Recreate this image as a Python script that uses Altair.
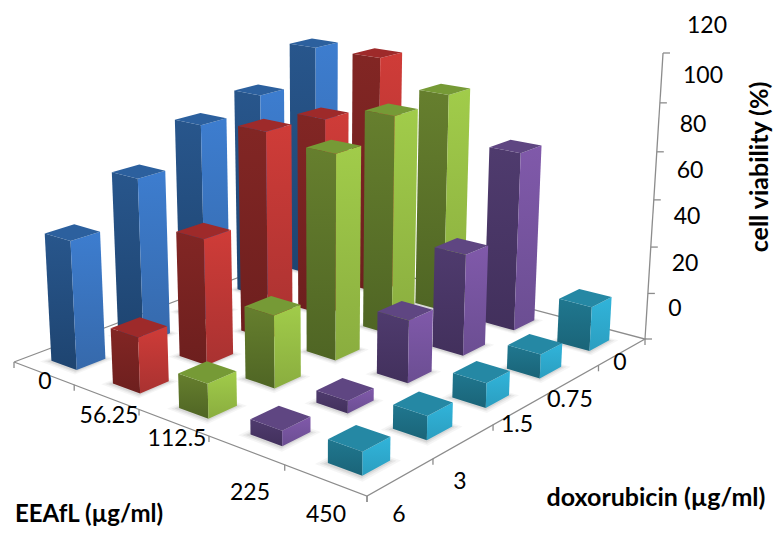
import altair as alt
import numpy as np

eeafl_labels = ["0", "56.25", "112.5", "225", "450"]
dox_labels = ["6", "3", "1.5", "0.75", "0"]
z_labels = ["0", "20", "40", "60", "80", "100", "120"]
# viability per EEAfL row, in dox order 6, 3, 1.5, 0.75, 0
blue = [54, 71, 86, 92, 107]
red = [23, 53, 89, 87, 107]
green = [14, 30, 86, 94, 96]
purple = [6, 5, 26, 43, 77]
teal = [9, 9.5, 10, 10, 19]
series = [blue, red, green, purple, teal]

# colours: top, left (start, end), right (start, end)
palette = [
    ("#2c609e", "#28568c", "#1e4470", "#3d7dcf", "#3669ab"),
    ("#9e2a2a", "#822624", "#6d1f1e", "#cf3c38", "#a93231"),
    ("#769a36", "#667f2e", "#4f6524", "#a1cc4a", "#8aad3f"),
    ("#5f4682", "#4f3b6e", "#42305c", "#8059aa", "#6b4e92"),
    ("#2588a4", "#20778f", "#1a6478", "#31b4da", "#2b9ec0"),
]
axis_color = "#8c8c8c"

OFF = 8
W, H = 765, 520
L, F, R, B = (14, 362), (367, 496), (645, 339), (310, 250.6)
Z_TOP = (663, 53)
VP = (321, 5478)
ZMAX = 120


def homography(src, dst):
    A, b = [], []
    for (u, v), (x, y) in zip(src, dst):
        A.append([u, v, 1, 0, 0, 0, -u * x, -v * x])
        A.append([0, 0, 0, u, v, 1, -u * y, -v * y])
        b += [x, y]
    h = np.linalg.solve(np.array(A, float), np.array(b, float))
    return np.append(h, 1).reshape(3, 3)


Hm = homography([(0, 0), (1, 0), (1, 1), (0, 1)], [L, F, R, B])
wR = (Hm @ np.array([1, 1, 1]))[2]
k = (Z_TOP[1] - R[1]) * wR / (ZMAX * (VP[1] - Z_TOP[1]))
c = k * np.array([VP[0], VP[1], 1.0])


def proj(u, v, z=0.0):
    p = Hm @ np.array([u, v, 1.0]) + z * c
    return [float(p[0] / p[2]) - OFF, float(p[1] / p[2]) - OFF]


def poly(pts):
    ring = pts + [pts[0]]
    return {"type": "Feature", "properties": {}, "geometry": {"type": "Polygon", "coordinates": [ring]}}


def line(pts):
    return {"type": "Feature", "properties": {}, "geometry": {"type": "LineString", "coordinates": pts}}


def grad(a, b):
    return alt.LinearGradient(
        gradient="linear", x1=0, y1=0, x2=0, y2=1,
        stops=[alt.GradientStop(offset=0, color=a), alt.GradientStop(offset=1, color=b)],
    )


def shape(features, **mark):
    return alt.Chart(alt.Data(values=features)).mark_geoshape(**mark).project(type="identity")


layers = []
frame = poly([[0, 0], [W, 0], [W, H], [0, H]])
layers.append(shape([frame], fill="#ffffff", stroke=None))

# floor edges and ticks
axis_lines = [line([proj(0, 0), proj(1, 0), proj(1, 1), proj(0, 1), proj(0, 0)])]
for i in range(6):
    t = i / 5
    a = proj(t, 0); axis_lines.append(line([a, [a[0], a[1] + 6]]))
    b = proj(1, t); axis_lines.append(line([b, [b[0], b[1] + 6]]))
axis_lines.append(line([proj(1, 1, 0), proj(1, 1, ZMAX)]))
for z in range(0, ZMAX + 1, 20):
    a = proj(1, 1, z); axis_lines.append(line([a, [a[0] + 7, a[1]]]))
layers.append(shape(axis_lines, filled=False, stroke=axis_color, strokeWidth=1.3))

HALF = 0.042


def footprint(u, v, g):
    return [proj(u - g, v - g), proj(u + g, v - g), proj(u + g, v + g), proj(u - g, v + g)]


cells = []
for i, row in enumerate(series):
    for j, val in enumerate(row):
        cells.append((i, j, val))
for extra, op in [(0.016, 0.04), (0.01, 0.05), (0.005, 0.07)]:
    feats = []
    for i, j, val in cells:
        u, v = (i + 0.5) / 5, (j + 0.5) / 5
        feats.append(poly(footprint(u, v - 0.003, HALF + extra)))
    layers.append(shape(feats, fill="#000000", fillOpacity=op, stroke=None))

# back to front
for i, j, val in sorted(cells, key=lambda c: c[0] - c[1]):
    u, v = (i + 0.5) / 5, (j + 0.5) / 5
    u0, u1, v0, v1 = u - HALF, u + HALF, v - HALF, v + HALF
    top_c, l0, l1, r0, r1 = palette[i]
    left = poly([proj(u0, v0, val), proj(u1, v0, val), proj(u1, v0), proj(u0, v0)])
    right = poly([proj(u1, v0, val), proj(u1, v1, val), proj(u1, v1), proj(u1, v0)])
    top = poly([proj(u0, v0, val), proj(u1, v0, val), proj(u1, v1, val), proj(u0, v1, val)])
    layers.append(shape([left], fill=grad(l0, l1), stroke=None))
    layers.append(shape([right], fill=grad(r0, r1), stroke=None))
    layers.append(shape([top], fill=top_c, stroke=None))


def text(label, x, y, size=23, weight="normal", angle=0, align="center"):
    return alt.Chart(alt.Data(values=[{"t": label, "x": x - OFF, "y": y - OFF}])).mark_text(
        font="Lato", fontSize=size, fontWeight=weight, color="#000000",
        angle=angle, align=align, baseline="middle",
    ).encode(x=alt.X("x:Q", scale=None), y=alt.Y("y:Q", scale=None), text="t:N")


for lab, (x, y) in zip(eeafl_labels, [(45, 382), (109, 416), (177, 439), (250, 493), (326, 515)]):
    layers.append(text(lab, x, y))
for lab, (x, y) in zip(dox_labels, [(399, 515), (460, 482), (517, 425), (570, 400), (620, 363)]):
    layers.append(text(lab, x, y))
for lab, (x, y) in zip(z_labels, [(675, 309), (685, 264), (687, 217), (690, 171), (693, 125), (703, 76), (707, 26)]):
    layers.append(text(lab, x, y))
layers.append(text("EEAfL (µg/ml)", 15, 515, size=24, weight="bold", align="left"))
layers.append(text("doxorubicin (µg/ml)", 656, 498, size=25, weight="bold"))
layers.append(text("cell viability (%)", 760, 167, size=25, weight="bold", angle=270))

chart = alt.layer(*layers).properties(
    width=W, height=H, padding=0, autosize=alt.AutoSizeParams(type="none")
).configure_view(stroke=None).configure_axis(grid=False)

chart.save("out.html", embed_options={"renderer": "svg", "actions": False})
